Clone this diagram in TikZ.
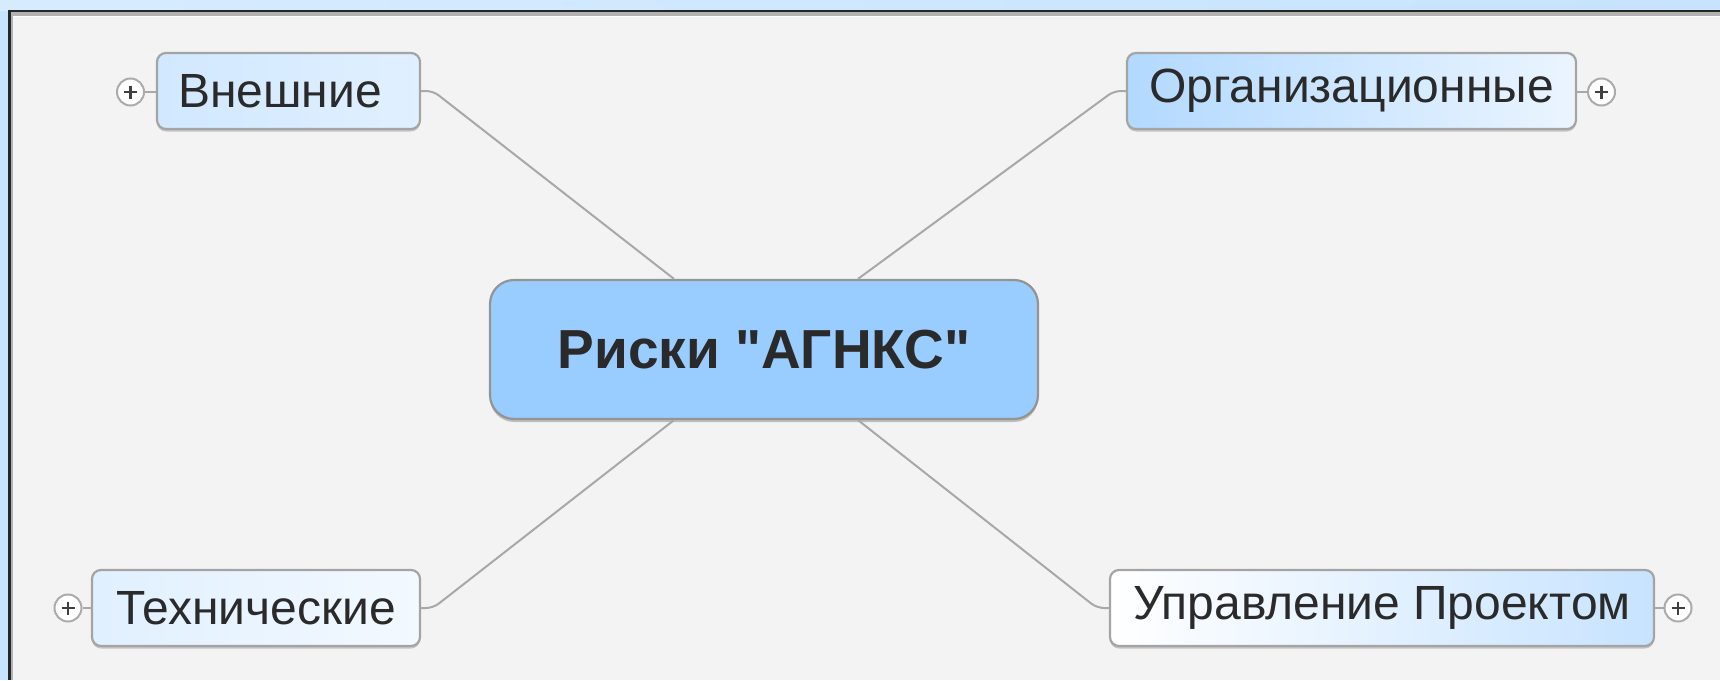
\documentclass[tikz,border=0pt]{standalone}
\usepackage{fontspec}
\newfontfamily\arialfont{Liberation Sans}
\usetikzlibrary{calc,shadows}
\definecolor{bgc}{HTML}{F3F3F3}
\definecolor{framebl}{HTML}{C6E3FF}
\definecolor{txt}{HTML}{2A2A2A}
\definecolor{bord}{HTML}{A4A4A4}
\definecolor{conn}{HTML}{A8A8A8}
\definecolor{ctrfill}{HTML}{99CCFF}
\tikzset{
  topic/.style={draw=bord, line width=2.2pt, rounded corners=9pt, text=txt,
    font=\arialfont\fontsize{48}{50}\selectfont, minimum height=76pt, inner sep=0pt,
    drop shadow={shadow xshift=0pt, shadow yshift=-2.5pt, fill=black!35, opacity=0.6}},
  central/.style={draw=black!42, line width=2.2pt, rounded corners=24pt, fill=ctrfill,
    text=txt, font=\arialfont\fontsize{55}{58}\selectfont\bfseries, minimum width=548pt,
    minimum height=139pt, inner sep=0pt,
    drop shadow={shadow xshift=0pt, shadow yshift=-3pt, fill=black!40, opacity=0.6}},
  plusc/.style={circle, draw=black!33, line width=2pt, fill=white, minimum size=27pt, inner sep=0pt},
  connector/.style={draw=conn, line width=2pt, rounded corners=7pt},
  stub/.style={draw=conn, line width=2pt},
  plussign/.style={draw=black!75, line width=2.4pt}
}
\begin{document}
\begin{tikzpicture}[x=1pt,y=-1pt]
\useasboundingbox (0,0) rectangle (1720,680);
% frame
\fill[framebl] (0,0) rectangle (1720,680);
\shade[left color=framebl!70!white, right color=framebl] (0,0) rectangle (1720,10);
\fill[black!85] (8,9.5) rectangle (1720,680);
\fill[black!30] (10.5,12) rectangle (1720,680);
\fill[white] (12.5,15.5) rectangle (1720,680);
\fill[bgc] (12.5,17) rectangle (1720,680);

% central node
\node[central] (c) at (764,349.5) {Риски \textquotedbl АГНКС\textquotedbl};

% topics
\node[topic, minimum width=263pt, text width=221pt, align=left,
      left color=ctrfill!45!white, right color=ctrfill!30!white] (vn) at (288.5,91) {Внешние};
\node[topic, minimum width=449pt,
      left color=ctrfill!75!white, middle color=ctrfill!25!white, right color=ctrfill!20!white] (org) at (1351.5,91) {Организационные};
\node[topic, minimum width=328pt,
      left color=ctrfill!30!white, right color=ctrfill!12!white] (teh) at (256,608) {Технические};
\node[topic, minimum width=544pt,
      left color=white, middle color=ctrfill!30!white, right color=ctrfill!55!white] (upr) at (1382,608) {Управление Проектом};

% expand markers
\node[plusc] (p1) at (130.5,92) {};
\node[plusc] (p2) at (1601.5,92) {};
\node[plusc] (p3) at (68,608) {};
\node[plusc] (p4) at (1678,608) {};
\foreach \p in {p1,p2,p3,p4}{
  \draw[plussign] ($(\p)+(-6.5,0)$) -- ($(\p)+(6.5,0)$);
  \draw[plussign] ($(\p)+(0,-6.5)$) -- ($(\p)+(0,6.5)$);
}
\draw[stub] (p1) -- (vn.west |- p1);
\draw[stub] (p2) -- (org.east |- p2);
\draw[stub] (p3) -- (teh.west |- p3);
\draw[stub] (p4) -- (upr.east |- p4);

% connector end points on the central node
\coordinate (cnw) at ($(c.north)+(-90,0)$);
\coordinate (cne) at ($(c.north)+(94,0)$);
\coordinate (csw) at ($(c.south)+(-90,0)$);
\coordinate (cse) at ($(c.south)+(94,0)$);

\draw[connector] (vn.east) -- ++(12,0) -- (cnw);
\draw[connector] (org.west) -- ++(-12,0) -- (cne);
\draw[connector] (teh.east) -- ++(12,0) -- (csw);
\draw[connector] (upr.west) -- ++(-12,0) -- (cse);
\end{tikzpicture}
\end{document}
